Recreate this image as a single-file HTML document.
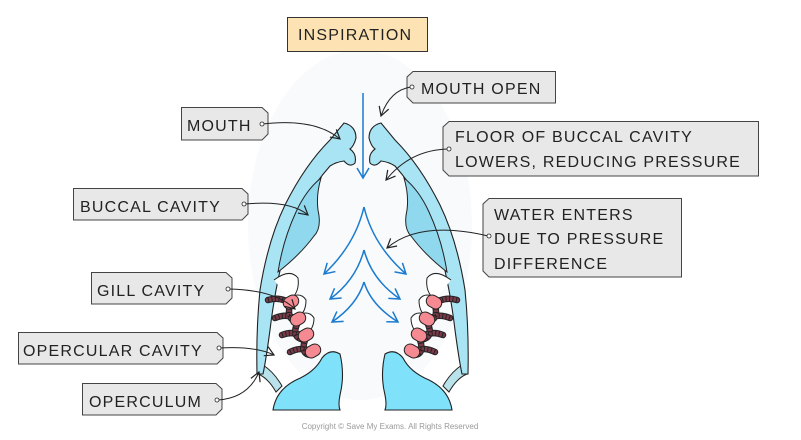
<!DOCTYPE html>
<html><head><meta charset="utf-8"><style>
body{margin:0;background:#fff}
svg text{font-family:"Liberation Sans",sans-serif;font-size:16px;letter-spacing:1.2px;fill:#222}
</style></head><body>
<svg width="801" height="435" viewBox="0 0 801 435" xmlns="http://www.w3.org/2000/svg">
<defs>
<marker id="ah" markerWidth="12" markerHeight="12" refX="10" refY="6" orient="auto" markerUnits="userSpaceOnUse"><path d="M1,1 L10,6 L1,11" fill="none" stroke="#222" stroke-width="1.2"/></marker>
<marker id="bh" markerWidth="14" markerHeight="14" refX="11" refY="7" orient="auto" markerUnits="userSpaceOnUse"><path d="M1,1 L11,7 L1,13" fill="none" stroke="#1a7bd0" stroke-width="1.5"/></marker>
<g id="half">
 <path d="M263,365 Q274,372 282,386 L276,392 Q268,378 258,374 Z" fill="#b9e2ea" stroke="#222" stroke-width="1"/>
 <path d="M344,123 Q356,126 356,138 Q354,146 350,149 Q357,154 355,163 Q350,168 344,161 Q336,162 330,166 Q300,200 288,240 Q276,280 270,330 Q266,360 263,374 L257,374 Q256,330 260,290 Q268,240 285,205 Q305,165 330,140 Z" fill="#a8e4f4" stroke="#222" stroke-width="1.1"/>
 <path d="M321,178 Q316,195 318,210 Q322,228 314,236 Q300,255 278,272 Q283,240 296,212 Q306,190 321,178 Z" fill="#8fd8ee" stroke="#222" stroke-width="1"/>
 <path d="M274,280 Q290,268 298,278 Q300,292 290,300 M285,300 Q300,290 306,300 Q306,314 296,318 M292,318 Q308,308 314,318 Q314,330 304,336" fill="#fff" stroke="#222" stroke-width="1"/>
 <g fill="none" stroke-linecap="round">
  <g stroke="#222" stroke-width="6.5">
   <path d="M268,300 Q282,296 292,305 M275,318 Q290,312 298,322 M282,335 Q295,330 305,338 M290,352 Q302,346 312,352"/>
   <path d="M290,305 Q286,320 298,322 Q290,338 305,340 Q300,355 312,355"/>
  </g>
  <g stroke="#7a3a4a" stroke-width="4.5">
   <path d="M268,300 Q282,296 292,305 M275,318 Q290,312 298,322 M282,335 Q295,330 305,338 M290,352 Q302,346 312,352"/>
   <path d="M290,305 Q286,320 298,322 Q290,338 305,340 Q300,355 312,355"/>
  </g>
  <g stroke="#222" stroke-width="4.6" stroke-dasharray="1 2.5" stroke-linecap="butt">
   <path d="M268,300 Q282,296 292,305 M275,318 Q290,312 298,322 M282,335 Q295,330 305,338 M290,352 Q302,346 312,352"/>
   <path d="M290,305 Q286,320 298,322 Q290,338 305,340 Q300,355 312,355"/>
  </g>
 </g>
 <g fill="#f58a92" stroke="#222" stroke-width="1">
  <rect x="283" y="296" width="16" height="12" rx="6" transform="rotate(-30 291 302)"/>
  <rect x="290" y="313" width="16" height="12" rx="6" transform="rotate(-30 298 319)"/>
  <rect x="298" y="329" width="16" height="12" rx="6" transform="rotate(-30 306 335)"/>
  <rect x="305" y="345" width="16" height="12" rx="6" transform="rotate(-30 313 351)"/>
 </g>
 <path d="M273,410 Q276,390 296,380 Q315,372 322,358 Q330,348 340,354 Q345,375 340,395 Q338,405 340,410 Z" fill="#7fe2fa" stroke="#222" stroke-width="1.1"/>
</g>
</defs>
<ellipse cx="360" cy="225" rx="112" ry="175" fill="#f8fafc"/>
<use href="#half"/>
<use href="#half" transform="translate(725,0) scale(-1,1)"/>
<g stroke="#1a7bd0" stroke-width="1.5" fill="none">
 <path d="M363,93 L363,178" marker-end="url(#bh)"/>
 <path d="M364,207 Q355,245 324,274" marker-end="url(#bh)"/>
 <path d="M364,207 Q373,245 406,274" marker-end="url(#bh)"/>
 <path d="M364,250 Q356,280 330,299" marker-end="url(#bh)"/>
 <path d="M364,250 Q372,280 400,299" marker-end="url(#bh)"/>
 <path d="M364,282 Q357,305 332,322" marker-end="url(#bh)"/>
 <path d="M364,282 Q371,305 398,322" marker-end="url(#bh)"/>
</g>
<rect x="287.5" y="17.5" width="140" height="34" fill="#fde3b3" stroke="#333"/>
<text x="298" y="40">INSPIRATION</text>
<g fill="#e8e8e8" stroke="#444" stroke-width="1">
 <path d="M181.5,107.5 H262 L268,113 V134 L262,140 H181.5 Z"/>
 <path d="M73.5,188.5 H242 L248,194 V214 L242,220 H73.5 Z"/>
 <path d="M91.5,272.5 H226 L232,278 V298 L226,304 H91.5 Z"/>
 <path d="M18.5,332.5 H217 L223,338 V358 L217,364 H18.5 Z"/>
 <path d="M82.5,383.5 H216 L222,389 V409 L216,415 H82.5 Z"/>
 <path d="M413,71.5 H555.5 V103 H413 L407,97 V77 Z"/>
 <path d="M449,121.5 H758.5 V176 H449 L443,170 V127 Z"/>
 <path d="M489,198.5 H681.5 V277 H489 L483,271 V204 Z"/>
</g>
<text x="187" y="131">MOUTH</text>
<text x="80" y="212">BUCCAL CAVITY</text>
<text x="97" y="296">GILL CAVITY</text>
<text x="23" y="356">OPERCULAR CAVITY</text>
<text x="89" y="407">OPERCULUM</text>
<text x="421" y="94">MOUTH OPEN</text>
<text x="455" y="142">FLOOR OF BUCCAL CAVITY</text>
<text x="455" y="167">LOWERS, REDUCING PRESSURE</text>
<text x="494" y="220">WATER ENTERS</text>
<text x="494" y="244">DUE TO PRESSURE</text>
<text x="494" y="269">DIFFERENCE</text>
<g stroke="#222" stroke-width="1" fill="none">
 <path d="M263,124 Q315,118 340,139" marker-end="url(#ah)"/>
 <path d="M245,204 Q290,200 308,215" marker-end="url(#ah)"/>
 <path d="M229,289 Q275,290 295,309" marker-end="url(#ah)"/>
 <path d="M220,348 Q255,346 274,355" marker-end="url(#ah)"/>
 <path d="M218,400 Q248,398 259,372" marker-end="url(#ah)"/>
 <path d="M411,87 Q390,90 381,116" marker-end="url(#ah)"/>
 <path d="M448,149 Q410,150 386,180" marker-end="url(#ah)"/>
 <path d="M488,236 Q420,220 387,248" marker-end="url(#ah)"/>
</g>
<g fill="#fff" stroke="#222" stroke-width="0.8">
 <circle cx="262" cy="124" r="2"/><circle cx="244" cy="204" r="2"/><circle cx="228" cy="289" r="2"/><circle cx="219" cy="348" r="2"/><circle cx="217" cy="400" r="2"/>
 <circle cx="412" cy="87" r="2"/><circle cx="449" cy="149" r="2"/><circle cx="489" cy="236" r="2"/>
</g>
<text x="390" y="429" style="font-size:8px;letter-spacing:0;fill:#999" text-anchor="middle">Copyright © Save My Exams. All Rights Reserved</text>
</svg>
</body></html>
